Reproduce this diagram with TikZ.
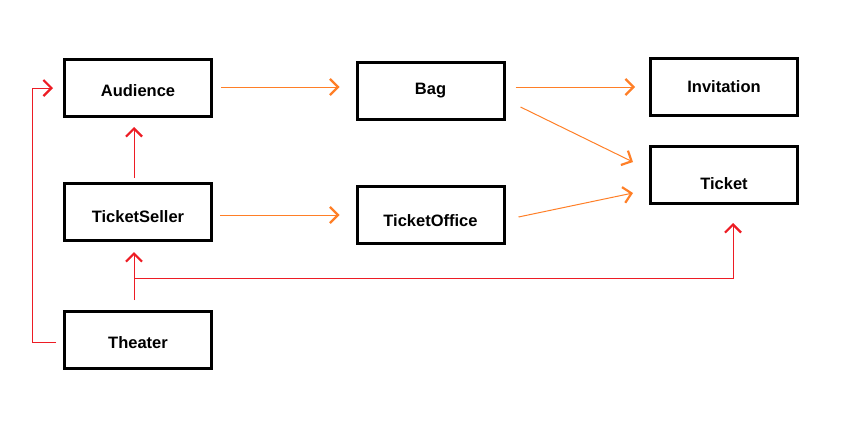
\documentclass[tikz,border=0pt]{standalone}
\usepackage{fontspec}
\setmainfont{Liberation Sans}
\usetikzlibrary{arrows.meta}
\definecolor{porange}{HTML}{FF7F27}
\definecolor{pred}{HTML}{ED1C24}
\begin{document}
\begin{tikzpicture}[x=1pt,y=-1pt,
  box/.style={draw=black,line width=3pt,minimum width=147pt,minimum height=57pt,inner sep=0pt,
    font=\fontsize{16.5}{19}\selectfont\bfseries},
  lower/.style={text height=#1,text depth=0pt},
  chev/.style={-{Straight Barb[length=8pt,width=16pt,line width=2.2pt]}},
  oarrow/.style={chev,draw=porange,line width=1pt},
  rarrow/.style={chev,draw=pred,line width=1pt}]
\useasboundingbox (0,0) rectangle (847,423);
\node[box,lower=16pt] (aud) at (138,88) {Audience};
\node[box] (bag) at (430.5,91) {Bag};
\node[box] (inv) at (724,87) {Invitation};
\node[box,lower=28pt] (tic) at (724,175) {Ticket};
\node[box,lower=20pt] (ts) at (138,212) {TicketSeller};
\node[box,lower=22pt] (to) at (430.5,215) {TicketOffice};
\node[box,lower=16pt] (th) at (138,340) {Theater};
% orange connectors
\draw[oarrow] ([xshift=8pt,yshift=1pt]aud.east) -- ([xshift=-16pt,yshift=4pt]bag.west);
\draw[oarrow] ([xshift=10pt,yshift=4pt]bag.east) -- ([xshift=-14pt]inv.west);
\draw[oarrow] ([xshift=15pt,yshift=-16pt]bag.east) -- ([xshift=-16pt,yshift=13pt]tic.west);
\draw[oarrow] ([xshift=7pt,yshift=-3pt]ts.east) -- ([xshift=-16pt]to.west);
\draw[oarrow] ([xshift=13pt,yshift=-2pt]to.east) -- ([xshift=-16pt,yshift=-18pt]tic.west);
% red connectors
\draw[rarrow] ([xshift=-4pt,yshift=4pt]ts.north) -- ([xshift=-4pt,yshift=-9pt]aud.south);
\draw[rarrow] ([xshift=-4pt,yshift=10pt]th.north) -- ([xshift=-4pt,yshift=-10pt]ts.south);
\coordinate (br) at (134,278);
\draw[rarrow] (br) -| ([xshift=9pt,yshift=-18pt]tic.south);
\draw[rarrow] ([xshift=-7pt,yshift=-2pt]th.west) -- ++(-24,0) |- ([xshift=-10pt]aud.west);
\end{tikzpicture}
\end{document}
